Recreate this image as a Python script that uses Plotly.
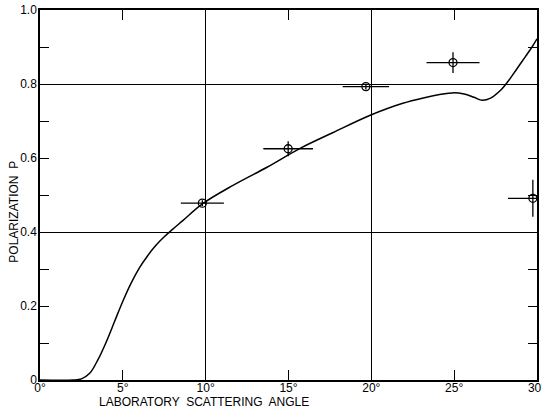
import plotly.graph_objects as go

# Theoretical curve (laboratory angle in degrees, polarization)
curve_angle = [0, 2.0, 2.5, 3.0, 3.5, 4.0, 4.5, 5.0, 5.5, 6.0, 6.5, 7.0, 7.5, 8.0,
               8.6, 9.8, 11.65, 13.7, 15.7, 17.7, 19.9, 21.9, 23.2, 24.2, 24.9,
               25.6, 26.2, 26.7, 27.2, 27.8, 28.3, 28.8, 29.3, 29.7, 30]
curve_p = [0, 0, 0.003, 0.018, 0.055, 0.103, 0.158, 0.213, 0.262, 0.303, 0.336,
           0.364, 0.387, 0.407, 0.43, 0.476, 0.526, 0.575, 0.626, 0.669, 0.715,
           0.748, 0.763, 0.772, 0.776, 0.773, 0.764, 0.756, 0.762, 0.783, 0.81,
           0.842, 0.874, 0.9, 0.922]

# Measured points
meas_angle = [9.8, 14.98, 19.67, 24.93, 29.75]
meas_p = [0.478, 0.625, 0.793, 0.858, 0.491]
meas_angle_err = [1.3, 1.5, 1.4, 1.6, 1.5]
meas_p_err = [0.008, 0.02, 0.008, 0.028, 0.05]

x_ticks = [0, 5, 10, 15, 20, 25, 30]
x_labels = ["0°", "5°", "10°", "15°", "20°", "25°", "30°"]
y_ticks = [0, 0.2, 0.4, 0.6, 0.8, 1.0]
y_labels = ["0", "0.2", "0.4", "0.6", "0.8", "1.0"]

fig = go.Figure()
fig.add_trace(go.Scatter(
    x=curve_angle, y=curve_p, mode="lines",
    line=dict(color="black", width=1.5, shape="spline", smoothing=1.0),
    hoverinfo="skip", showlegend=False, cliponaxis=True))
fig.add_trace(go.Scatter(
    x=meas_angle, y=meas_p, mode="markers",
    marker=dict(symbol="circle-open", size=8, color="black", line=dict(width=1.3)),
    error_x=dict(type="data", array=meas_angle_err, color="black", thickness=1.3, width=0),
    error_y=dict(type="data", array=meas_p_err, color="black", thickness=1.3, width=0),
    showlegend=False, cliponaxis=False))

font = dict(family="Liberation Sans, Arial, sans-serif", size=12, color="black")
xfont = dict(family="Liberation Sans, Arial, sans-serif", size=12, color="black")

fig.update_layout(
    width=542, height=409,
    margin=dict(l=40, r=5, t=10, b=29, autoexpand=False),
    paper_bgcolor="white", plot_bgcolor="white",
    font=font,
    xaxis=dict(range=[0, 30], tickvals=x_ticks, ticktext=x_labels,
               ticks="inside", ticklen=10, tickwidth=1.3, tickcolor="black",
               showline=True, linecolor="black", linewidth=1.5, mirror="ticks",
               showgrid=False, zeroline=False, tickfont=xfont, automargin=False,
               ticklabeloverflow="allow", ticklabelstandoff=-4),
    yaxis=dict(range=[0, 1.0], tickvals=y_ticks, ticktext=y_labels,
               ticks="inside", ticklen=9, tickwidth=1.3, tickcolor="black",
               minor=dict(dtick=0.1, ticks="inside", ticklen=9, tickwidth=1.3, tickcolor="black"),
               showline=True, linecolor="black", linewidth=1.5, mirror="ticks",
               showgrid=False, zeroline=False, tickfont=font, automargin=False,
               ticklabeloverflow="allow", ticklabelstandoff=-1),
    xaxis2=dict(overlaying="x", matches="x", side="top", range=[0, 30], dtick=10,
                showgrid=True, gridcolor="black", gridwidth=1.2, automargin=False,
                showticklabels=False, ticks="", showline=False, zeroline=False),
    yaxis2=dict(overlaying="y", matches="y", side="right", range=[0, 1.0], dtick=0.4,
                showgrid=True, gridcolor="black", gridwidth=1.2, automargin=False,
                showticklabels=False, ticks="", showline=False, zeroline=False),
    annotations=[
        dict(text="LABORATORY  SCATTERING  ANGLE", xref="paper", yref="paper",
             x=0.33, y=0, yshift=-22, xanchor="center", yanchor="middle",
             showarrow=False, font=dict(family="Liberation Sans, Arial, sans-serif", size=12, color="black")),
        dict(text="POLARIZATION  P", xref="paper", yref="paper",
             x=0, xshift=-26, y=0.455, xanchor="center", yanchor="middle", textangle=-90,
             showarrow=False, font=dict(family="Liberation Sans, Arial, sans-serif", size=12, color="black")),
    ],
)
# invisible trace to activate the overlay axes
fig.add_trace(go.Scatter(x=[None], y=[None], xaxis="x2", yaxis="y2", showlegend=False, hoverinfo="skip"))

fig.write_html("out.html")
